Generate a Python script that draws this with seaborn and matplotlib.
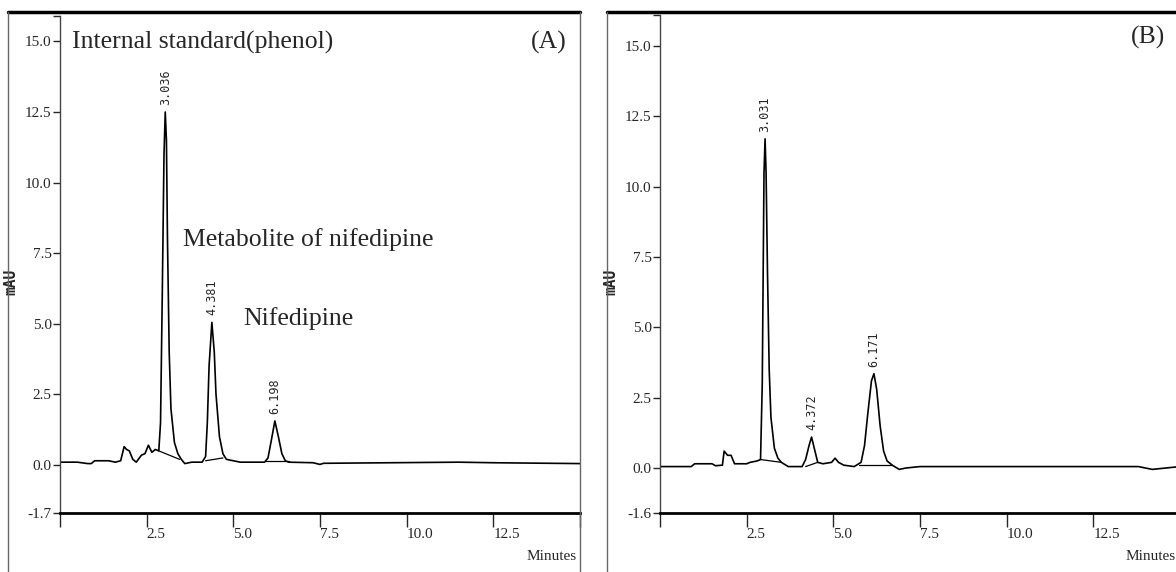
import matplotlib
matplotlib.use("Agg")
import matplotlib.pyplot as plt
from matplotlib.lines import Line2D
import seaborn as sb

# chromatogram (A): retention time (min) vs signal (mAU)
A_TIME = [0.0, 0.5, 0.8, 0.9, 1.0, 1.4, 1.6, 1.75, 1.85, 1.92, 2.0, 2.1, 2.2, 2.35, 2.45,
          2.55, 2.65, 2.75, 2.85, 2.9, 2.95, 3.0, 3.036, 3.07, 3.1, 3.15, 3.2, 3.3, 3.4,
          3.5, 3.6, 3.8, 4.1, 4.2, 4.25, 4.3, 4.381, 4.45, 4.5, 4.6, 4.7, 4.8, 5.0, 5.2,
          5.9, 6.0, 6.1, 6.198, 6.3, 6.4, 6.5, 6.6, 7.3, 7.5, 7.6, 11.5, 12.5, 15.0]
A_MAU = [0.10, 0.10, 0.05, 0.05, 0.15, 0.15, 0.10, 0.15, 0.65, 0.55, 0.50, 0.20, 0.10, 0.35, 0.40,
         0.70, 0.45, 0.55, 0.50, 1.5, 6.0, 11.0, 12.5, 11.5, 8.0, 4.0, 2.0, 0.8, 0.4,
         0.2, 0.05, 0.10, 0.10, 0.30, 1.5, 3.5, 5.05, 4.0, 2.5, 1.0, 0.4, 0.2, 0.15, 0.10,
         0.10, 0.25, 0.9, 1.56, 1.0, 0.4, 0.15, 0.10, 0.08, 0.02, 0.06, 0.10, 0.08, 0.05]
A_BASE = [([2.85, 3.45], [0.50, 0.20]), ([4.2, 4.7], [0.15, 0.25]), ([5.9, 6.6], [0.15, 0.15])]
A_PEAKS = [3.036, 4.381, 6.198]
A_HEIGHTS = [12.5, 5.05, 1.56]

# chromatogram (B)
B_TIME = [0.0, 0.9, 1.0, 1.5, 1.6, 1.8, 1.85, 1.95, 2.05, 2.15, 2.5, 2.6, 2.8, 2.9, 2.95,
          3.0, 3.031, 3.06, 3.1, 3.15, 3.2, 3.3, 3.4, 3.5, 3.7, 4.1, 4.2, 4.3, 4.372, 4.45,
          4.55, 4.7, 4.95, 5.05, 5.15, 5.3, 5.6, 5.8, 5.9, 6.0, 6.1, 6.171, 6.25, 6.35,
          6.45, 6.55, 6.7, 6.9, 7.1, 7.5, 13.8, 14.2, 15.0]
B_MAU = [0.05, 0.05, 0.15, 0.15, 0.08, 0.10, 0.60, 0.45, 0.45, 0.15, 0.15, 0.20, 0.25, 0.30, 3.0,
         10.5, 11.7, 10.5, 7.0, 3.5, 1.8, 0.7, 0.35, 0.2, 0.05, 0.05, 0.3, 0.8, 1.1, 0.7,
         0.2, 0.15, 0.2, 0.35, 0.2, 0.1, 0.05, 0.2, 0.8, 2.0, 3.1, 3.35, 2.8, 1.5,
         0.6, 0.25, 0.10, -0.05, 0.0, 0.05, 0.05, -0.05, 0.05]
B_BASE = [([2.9, 3.5], [0.30, 0.20]), ([4.2, 4.55], [0.05, 0.20]), ([5.75, 6.7], [0.10, 0.10])]
B_PEAKS = [3.031, 4.372, 6.171]
B_HEIGHTS = [11.7, 1.1, 3.35]

X_TICKS = [0, 2.5, 5.0, 7.5, 10.0, 12.5, 15.0]
X_LABELS = ["", "2.5", "5.0", "7.5", "10.0", "12.5", ""]

SERIF = "Liberation Serif"
NARROW = "Liberation Serif"
MONO = "DejaVu Sans Mono"

sb.set_style("white")
plt.rcParams["font.family"] = ["DejaVu Sans"]


def draw_panel(ax, t, y, base, peaks, heights, ymin, ymax):
    sb.lineplot(x=t, y=y, ax=ax, color="black", linewidth=1.2, estimator=None, sort=False)
    for bt, by in base:
        ax.plot(bt, by, color="black", linewidth=0.9)
    for p, h in zip(peaks, heights):
        ax.annotate(f"{p:.3f}", xy=(p, h), xytext=(0, 5), textcoords="offset points",
                    rotation=90, ha="center", va="bottom", fontsize=8.5, family=MONO)
    ax.set_xlim(0, 15)
    ax.set_ylim(ymin, ymax)
    ax.set_xticks(X_TICKS)
    ax.set_xticklabels(X_LABELS, ha="left", family=NARROW, fontsize=11)
    yt = [ymin, 0.0, 2.5, 5.0, 7.5, 10.0, 12.5, 15.0, ymax]
    ax.set_yticks(yt)
    ax.set_yticklabels([f"{ymin:.1f}", "0.0", "2.5", "5.0", "7.5", "10.0", "12.5", "15.0", ""],
                       family=NARROW, fontsize=11)
    ax.tick_params(axis="x", direction="out", length=10, width=1, pad=1, bottom=True)
    ax.tick_params(axis="y", direction="out", length=5, width=1, pad=1, left=True)
    ax.spines["top"].set_visible(False)
    ax.spines["right"].set_visible(False)
    ax.spines["left"].set_color("#444444")
    ax.spines["left"].set_linewidth(1.0)
    ax.spines["bottom"].set_color("black")
    ax.spines["bottom"].set_linewidth(2.0)
    ax.set_xlabel("")
    ax.set_ylabel("mAU", family=MONO, fontsize=10.5, fontweight="bold")
    ax.yaxis.set_label_coords(-42 / 520, 0.5 - 0.035)
    ax.patch.set_alpha(0)


fig = plt.figure(figsize=(11.76, 5.72), dpi=100)
W, H = 1176.0, 572.0

ax_a = fig.add_axes([60 / W, 59 / H, 520 / W, 497 / H])
ax_b = fig.add_axes([660 / W, 59 / H, 520 / W, 498 / H])

draw_panel(ax_a, A_TIME, A_MAU, A_BASE, A_PEAKS, A_HEIGHTS, -1.7, 15.9)
draw_panel(ax_b, B_TIME, B_MAU, B_BASE, B_PEAKS, B_HEIGHTS, -1.6, 16.1)

# panel frames
def fx(px):
    return px / W

def fy(py):
    return 1 - py / H

for x0, x1 in [(8, 580), (607, 1176)]:
    fig.add_artist(Line2D([fx(x0), fx(x1)], [fy(12), fy(12)], color="black", linewidth=2.5))
    fig.add_artist(Line2D([fx(x0), fx(x0)], [fy(12), 0], color="#666666", linewidth=1.0))
fig.add_artist(Line2D([fx(580), fx(580)], [fy(12), 0], color="#666666", linewidth=1.0))

# annotations
ax_a.text(0.35, 14.95, "Internal standard(phenol)", family=SERIF, fontsize=18.5, va="center", ha="left")
ax_a.text(14.6, 14.95, "(A)", family=SERIF, fontsize=18.5, va="center", ha="right")
ax_a.text(3.55, 8.0, "Metabolite of nifedipine", family=SERIF, fontsize=18.5, va="center", ha="left")
ax_a.text(5.3, 5.18, "Nifedipine", family=SERIF, fontsize=18.5, va="center", ha="left")
ax_b.text(14.58, 15.3, "(B)", family=SERIF, fontsize=18.5, va="center", ha="right")

fig.text(fx(577), fy(557), "Minutes", family=NARROW, fontsize=11, ha="right", va="center")
fig.text(fx(1176), fy(557), "Minutes", family=NARROW, fontsize=11, ha="right", va="center")

fig.savefig("out.png", dpi=100)
